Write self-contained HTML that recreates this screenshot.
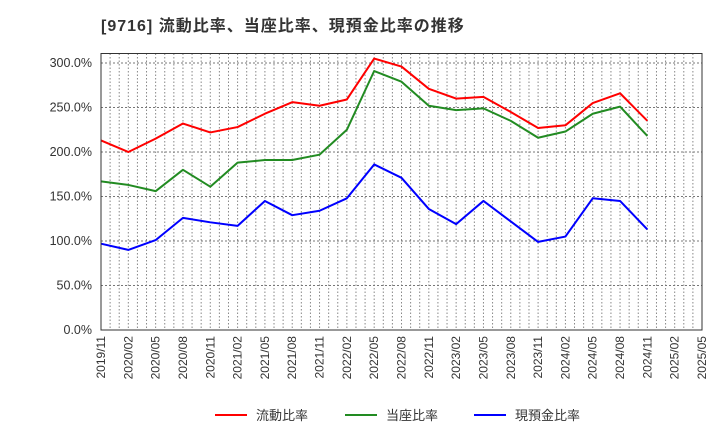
<!DOCTYPE html>
<html><head><meta charset="utf-8">
<style>
body{margin:0;background:#fff;width:720px;height:440px;overflow:hidden;font-family:"Liberation Sans","Noto Sans CJK JP",sans-serif;}
svg text{font-family:"Liberation Sans","Noto Sans CJK JP",sans-serif;}
</style></head>
<body>
<svg id="chart" width="720" height="440" xmlns="http://www.w3.org/2000/svg">
<text x="101" y="31" font-size="16" font-weight="bold" letter-spacing="1" fill="#333">[9716]  流動比率、当座比率、現預金比率の推移</text>
<g id="grid"></g>
<g id="series"></g>
<rect x="101" y="53.5" width="601" height="276.5" fill="none" stroke="#333" stroke-width="1"/>
<g id="axes"></g>
<g>
<line x1="215" y1="415" x2="247" y2="415" stroke="#ff0000" stroke-width="2"/>
<text x="256" y="420" font-size="13" fill="#333">流動比率</text>
<line x1="345" y1="415" x2="377" y2="415" stroke="#228b22" stroke-width="2"/>
<text x="386" y="420" font-size="13" fill="#333">当座比率</text>
<line x1="474" y1="415" x2="506" y2="415" stroke="#0000ff" stroke-width="2"/>
<text x="515" y="420" font-size="13" fill="#333">現預金比率</text>
</g>
</svg>
<script>
const xLabels=["2019/11","2020/02","2020/05","2020/08","2020/11","2021/02","2021/05","2021/08","2021/11","2022/02","2022/05","2022/08","2022/11","2023/02","2023/05","2023/08","2023/11","2024/02","2024/05","2024/08","2024/11","2025/02","2025/05"];
const yTicks=[0,50,100,150,200,250,300];
const currentRatio=[213,200,215,232,222,228,243,256,252,259,305,296,271,260,262,245,227,230,255,266,235];
const quickRatio=[167,163,156,180,161,188,191,191,197,225,291,279,252,247,249,235,216,223,243,251,218];
const cashRatio=[97,90,101,126,121,117,145,129,134,148,186,171,136,119,145,122,99,105,148,145,113];
const NS="http://www.w3.org/2000/svg";
const L=101,R=702,T=53.5,B=330;
const xMonths=(xLabels.length-1)*3;
function xs(i){return L+(R-L)*i/(xLabels.length-1);}
function xm(m){return L+(R-L)*m/xMonths;}
function ys(v){return B-(B-63)*v/300;}
function mk(tag,attrs,parent){const e=document.createElementNS(NS,tag);for(const k in attrs)e.setAttribute(k,attrs[k]);parent.appendChild(e);return e;}
const grid=document.getElementById('grid'),axes=document.getElementById('axes'),series=document.getElementById('series');
for(let m=1;m<xMonths;m++){
  const l=mk('line',{x1:xm(m),x2:xm(m),y1:T,y2:B,stroke:'#888','stroke-width':1,'stroke-dasharray':'1.5,2'},grid);
  
  
}
for(let v=50;ys(v)>T;v+=50){
  const l=mk('line',{x1:L,x2:R,y1:ys(v),y2:ys(v),stroke:'#777','stroke-width':1,'stroke-dasharray':'2,2'},grid);
  
  
}
yTicks.forEach(v=>{
  const t=mk('text',{x:L-9,y:ys(v)+4,'text-anchor':'end','font-size':12.5,fill:'#333'},axes);
  t.textContent=v.toFixed(1)+'%';
  
  
});
xLabels.forEach((s,i)=>{
  const x=xs(i)+4,y=B+6;
  const t=mk('text',{x:x,y:y,'text-anchor':'end','font-size':12,fill:'#333',transform:`rotate(-90 ${x} ${y})`},axes);
  t.textContent=s;
  
  
});
function line(data,color,name){
  const p=mk('polyline',{points:data.map((v,i)=>xs(i)+','+ys(v)).join(' '),fill:'none',stroke:color,'stroke-width':2,'stroke-linejoin':'round'},series);
  
  
}
line(currentRatio,'#ff0000','current-ratio-line');
line(quickRatio,'#228b22','quick-ratio-line');
line(cashRatio,'#0000ff','cash-ratio-line');
</script>
</body></html>
